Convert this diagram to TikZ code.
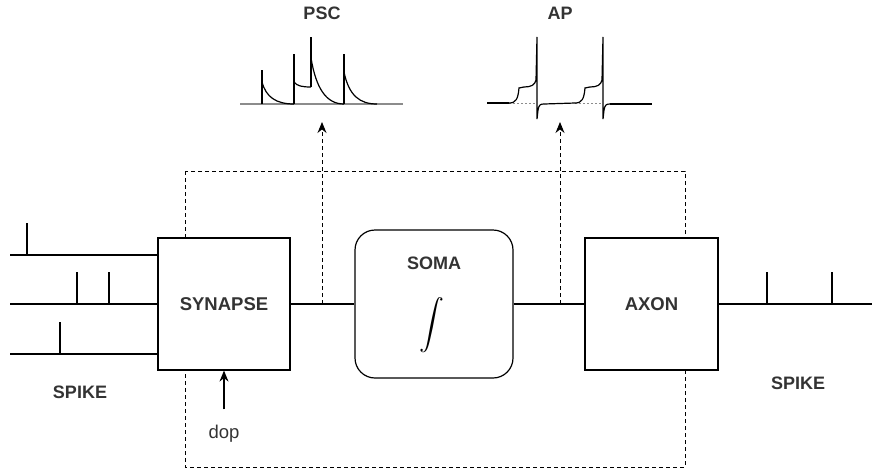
\documentclass[tikz,border=0pt]{standalone}
\usepackage{fontspec}
\usepackage{exscale}
\setmainfont{Liberation Sans}
\usetikzlibrary{arrows.meta}
\begin{document}
\begin{tikzpicture}[x=1pt,y=-1pt,line width=1.2pt,
  blk/.style={draw,fill=white,inner sep=0pt,minimum width=132pt,minimum height=132pt,
    font=\fontsize{18.5}{20}\selectfont\bfseries,text=black!80},
  lbl/.style={font=\fontsize{18}{20}\selectfont\bfseries,text=black!80},
  dsh/.style={line width=1pt,dash pattern=on 4pt off 3pt},
  arr/.style={-{Stealth[length=11pt,width=9pt]}}]
  \useasboundingbox (0,0) rectangle (872,472);

  \draw[dsh] (185,171) rectangle (685,467);

  \node[blk] (synapse) at (224,304) {SYNAPSE};
  \node[blk,minimum width=158pt,minimum height=148pt,rounded corners=20pt] (soma) at (434,304) {};
  \node[lbl] (somalbl) at (434,263) {SOMA};
  \node (somaint) at (432,325) {\fontsize{27}{30}\selectfont$\displaystyle\int$};
  \node[blk,minimum width=133pt] (axon) at (651.5,304) {AXON};

  \draw (synapse) -- (soma);
  \draw (soma) -- (axon);
  \coordinate (out) at (872,304);
  \draw (axon.east) -- (out);

  \coordinate (in1) at (10,255);
  \coordinate (in2) at (10,304);
  \coordinate (in3) at (10,354);
  \foreach \c in {in1,in2,in3}
    \draw (\c) -- (\c -| synapse.west);

  \foreach \x/\y in {27/255,77/304,109/304,60/354,767/304,832/304}
    \draw (\x,\y) -- (\x,\y-32);

  \node[lbl] (spikein) at (80,392) {SPIKE};
  \node[lbl] (spikeout) at (798,383) {SPIKE};

  \node[font=\fontsize{18.5}{20}\selectfont,text=black!80] (dop) at (224,434) {dop};
  \draw[arr] ([yshift=12pt]dop.north) -- (dop |- synapse.south);

  \coordinate (psctap) at (322,304);
  \coordinate (pscend) at (322,122);
  \coordinate (aptap) at (560,304);
  \coordinate (apend) at (560,122);
  \draw[dsh,arr] (psctap) -- (pscend);
  \draw[dsh,arr] (aptap) -- (apend);

  \node[lbl] (psc) at (322,13) {PSC};
  \node[lbl] (ap) at (560,13) {AP};

  \draw[black!45,line width=1.5pt] (240,104) -- (403,104);
  \draw (262,104) -- (262,70);
  \draw (262,82) .. controls (266,97) and (276,104) .. (294,104);
  \draw (294,104) -- (294,54);
  \draw (294,82) .. controls (297,86) and (302,87) .. (311,87);
  \draw (311,87) -- (311,37);
  \draw (311,58) .. controls (316,88) and (326,104) .. (344,104);
  \draw (344,104) -- (344,54);
  \draw (344,72) .. controls (349,96) and (360,104) .. (377,104);

  \draw (487,103) -- (509,103);
  \foreach \o in {0,66}{
    \draw[black!45,line width=1pt,dash pattern=on 2pt off 2pt] (509+\o,103) -- (537+\o,103);
    \draw (509+\o,103) .. controls (516+\o,103) and (518+\o,99) .. (519+\o,88)
      -- (524+\o,87) .. controls (531+\o,87) and (535+\o,85) .. (536+\o,80)
      -- (537+\o,37) -- (537+\o,119) -- (538+\o,110)
      .. controls (539+\o,105) and (540+\o,104) .. (544+\o,104);
  }
  \draw (544,104) -- (575,103);
  \draw (610,104) -- (652,104);
\end{tikzpicture}
\end{document}
